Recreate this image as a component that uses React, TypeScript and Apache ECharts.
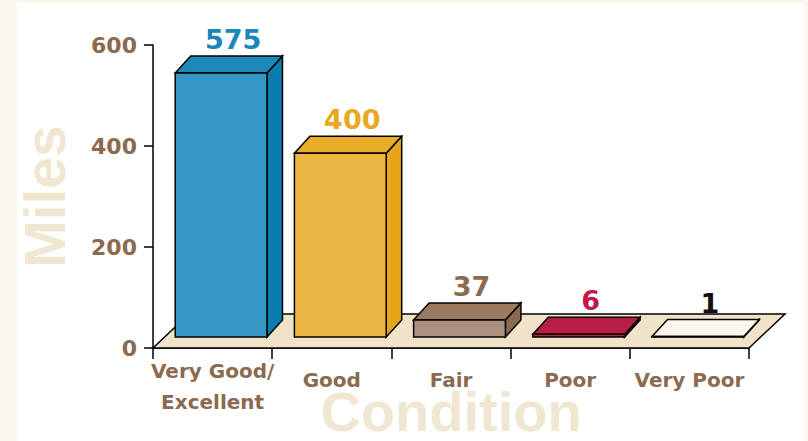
import React, { useEffect, useRef } from "react";
import * as echarts from "echarts";

const CATEGORIES = ["Very Good/\nExcellent", "Good", "Fair", "Poor", "Very Poor"];
const VALUES = [575, 400, 37, 6, 1];
const Y_TICKS = [0, 200, 400, 600];
const LABEL_COLORS = ["#1a86b9", "#e8a823", "#8b6a4f", "#c0184a", "#111111"];
const FRONT_COLORS = ["#3597c3", "#ecb744", "#ab917d", "#be1e4b", "#faf7ee"];
const TOP_COLORS = ["#1c89ba", "#e9ad2a", "#9c7a60", "#b81c48", "#faf7ee"];
const SIDE_COLORS = ["#087db0", "#e6a51a", "#8a6a52", "#a8173f", "#e8dcc2"];

const BROWN = "#8b6a4f";
const CREAM = "#f0e6d2";
const FONT = "'DejaVu Sans', sans-serif";

export default function App() {
  const ref = useRef<HTMLDivElement>(null);
  useEffect(() => {
    const chart = echarts.init(ref.current!, null, { renderer: "svg" });
    const BAR_DX = 15.5;
    const BAR_DY = -17;
    const FRONT_SHIFT = 8.5;
    const FLOOR_DX = 36;
    const FLOOR_DY = -34;
    const labelStyle = {
      color: BROWN,
      fontSize: 20,
      fontWeight: "bold" as const,
      fontFamily: FONT,
    };

    chart.setOption({
      animation: false,
      backgroundColor: "#faf7ef",
      graphic: [
        {
          type: "rect",
          z: -10,
          silent: true,
          shape: { x: 17, y: 3, width: 787, height: 445 },
          style: { fill: "#ffffff" },
        },
      ],
      grid: {
        left: 153,
        right: 59,
        top: 45,
        bottom: 93,
        containLabel: false,
        outerBoundsMode: "none",
      },
      xAxis: {
        type: "category",
        data: CATEGORIES,
        name: "Condition",
        nameLocation: "middle",
        nameGap: 45,
        nameMoveOverlap: false,
        nameTextStyle: {
          color: CREAM,
          fontSize: 56,
          fontWeight: "bold",
          fontFamily: "'Liberation Sans', sans-serif",
          verticalAlign: "top",
          lineHeight: 36,
        },
        axisLine: { show: true, lineStyle: { color: "#000", width: 1.5 } },
        axisTick: { show: true, length: 11, lineStyle: { color: "#000", width: 1.5 } },
        axisLabel: {
          ...labelStyle,
          margin: 7,
          verticalAlign: "top",
          interval: 0,
          formatter: (v: string) =>
            v.includes("\n")
              ? v
                  .split("\n")
                  .map((s) => `{a|${s}}`)
                  .join("\n")
              : `{b|${v}}`,
          rich: {
            a: { ...labelStyle, lineHeight: 31 },
            b: { ...labelStyle, lineHeight: 50 },
          },
        },
      },
      yAxis: [
        {
          type: "value",
          min: 0,
          max: 600,
          interval: 200,
          name: "Miles",
          nameLocation: "middle",
          nameRotate: 90,
          nameGap: 80,
          nameMoveOverlap: false,
          nameTextStyle: {
            color: CREAM,
            fontSize: 57,
            fontWeight: "bold",
            fontFamily: "'Liberation Sans', sans-serif",
          },
          axisLine: { show: true, lineStyle: { color: "#000", width: 1.5 } },
          axisTick: { show: true, length: 9, lineStyle: { color: "#000", width: 1.5 } },
          splitLine: { show: false },
          axisLabel: {
            color: BROWN,
            fontSize: 22,
            fontWeight: "bold",
            fontFamily: FONT,
            margin: 16,
            formatter: (v: number) => (Y_TICKS.includes(v) ? String(v) : ""),
          },
        },
        {
          type: "value",
          show: false,
          min: -24,
          max: 636,
          splitLine: { show: false },
        },
      ],
      series: [
        {
          type: "custom",
          yAxisIndex: 0,
          data: [[0, 0]],
          z: 1,
          silent: true,
          renderItem: (params: any, api: any) => {
            const band = api.size([1, 0])[0];
            const a = api.coord([0, 0]);
            const b = api.coord([CATEGORIES.length - 1, 0]);
            const x0 = a[0] - band / 2;
            const x1 = b[0] + band / 2;
            const y = a[1];
            return {
              type: "polygon",
              shape: {
                points: [
                  [x0, y],
                  [x1, y],
                  [x1 + FLOOR_DX, y + FLOOR_DY],
                  [x0 + FLOOR_DX, y + FLOOR_DY],
                ],
              },
              style: { fill: "#f0e3c9", stroke: "#000", lineWidth: 1.5 },
            };
          },
        },
        {
          type: "custom",
          yAxisIndex: 1,
          z: 3,
          silent: true,
          data: VALUES.map((v, i) => [i, v]),
          renderItem: (params: any, api: any) => {
            const i = api.value(0);
            const v = api.value(1);
            const base = api.coord([i, 0]);
            const top = api.coord([i, v]);
            const band = api.size([1, 0])[0];
            const w = band * 0.77;
            const fx = base[0] + FRONT_SHIFT - w / 2;
            const by = base[1];
            const ty = top[1];
            const stroke = { stroke: "#000", lineWidth: 1.5, lineJoin: "miter" };
            return {
              type: "group",
              children: [
                {
                  type: "polygon",
                  shape: {
                    points: [
                      [fx + w, ty],
                      [fx + w, by],
                      [fx + w + BAR_DX, by + BAR_DY],
                      [fx + w + BAR_DX, ty + BAR_DY],
                    ],
                  },
                  style: { fill: SIDE_COLORS[i], ...stroke },
                },
                {
                  type: "polygon",
                  shape: {
                    points: [
                      [fx, ty],
                      [fx + w, ty],
                      [fx + w + BAR_DX, ty + BAR_DY],
                      [fx + BAR_DX, ty + BAR_DY],
                    ],
                  },
                  style: { fill: TOP_COLORS[i], ...stroke },
                },
                {
                  type: "rect",
                  shape: { x: fx, y: ty, width: w, height: by - ty },
                  style: { fill: FRONT_COLORS[i], ...stroke },
                },
                {
                  type: "text",
                  style: {
                    text: String(v),
                    x: fx + w / 2 + 12,
                    y: ty + BAR_DY - 3,
                    align: "center",
                    verticalAlign: "bottom",
                    fill: LABEL_COLORS[i],
                    fontSize: 27,
                    fontWeight: "bold",
                    fontFamily: FONT,
                  },
                },
              ],
            };
          },
        },
      ],
    });
    return () => chart.dispose();
  }, []);
  return (
    <div
      ref={ref}
      style={{ position: "fixed", left: 0, top: 0, width: 808, height: 441 }}
    />
  );
}
